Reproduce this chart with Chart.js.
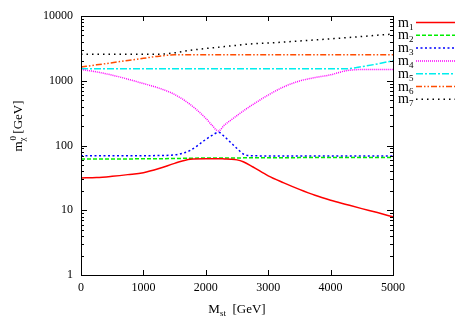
<!DOCTYPE html>
<html>
<head>
<meta charset="utf-8">
<script src="https://cdn.jsdelivr.net/npm/chart.js@4.4.1/dist/chart.umd.min.js"></script>
<style>
  html, body { margin: 0; padding: 0; background: #fff; }
  canvas { display: block; }
</style>
</head>
<body>
<canvas id="chart" width="467" height="327"></canvas>
<script>
// M_st values (GeV) and neutralino masses
const mst = [0, 250, 500, 750, 1000, 1250, 1500, 1750, 2000, 2100, 2200, 2300, 2400, 2500, 2600, 2750, 3000, 3250, 3500, 3750, 4000, 4250, 4500, 4750, 5000];
const m1 = [31.5, 32, 33.5, 35.5, 38, 44, 53, 61.5, 62.5, 62.5, 62.5, 62, 61.5, 60, 56, 47, 34, 26.5, 21, 17, 14.3, 12.3, 10.6, 9.2, 7.9];
const m2 = [62, 62, 62, 62, 62.5, 62.5, 63, 63.5, 64, 64, 64, 64, 64, 64, 64.5, 64.5, 64.5, 64.5, 65, 65, 65, 65, 65, 65, 65];
const m3 = [69.5, 69.5, 69.5, 69.5, 69.5, 70, 71.5, 84, 124, 143, 160, 137, 111, 90, 74, 69.5, 69, 69, 69, 69, 69, 69, 69, 69, 69];
const m4 = [1490, 1370, 1220, 1060, 905, 770, 614, 430, 263, 205, 168, 207, 246, 290, 341, 427, 601, 805, 990, 1120, 1235, 1430, 1490, 1490, 1490];
const m5 = [1530, 1530, 1530, 1530, 1530, 1530, 1530, 1530, 1530, 1530, 1530, 1530, 1530, 1530, 1530, 1530, 1530, 1530, 1530, 1530, 1530, 1535, 1650, 1820, 2040];
const m6 = [1630, 1760, 1900, 2060, 2220, 2400, 2510, 2510, 2510, 2510, 2510, 2510, 2510, 2510, 2510, 2510, 2510, 2510, 2510, 2510, 2510, 2510, 2510, 2510, 2510];
const m7 = [2560, 2560, 2560, 2560, 2560, 2570, 2700, 2950, 3150, 3220, 3290, 3370, 3450, 3530, 3620, 3720, 3830, 3960, 4110, 4270, 4440, 4620, 4820, 5050, 5250];

const xTicks = [0, 1000, 2000, 3000, 4000, 5000];
const yTicks = [1, 10, 100, 1000, 10000];

const series = [
  { sub: '1', data: m1, color: '#ff0000', dash: [] },
  { sub: '2', data: m2, color: '#00ee00', dash: [4, 2] },
  { sub: '3', data: m3, color: '#0000ff', dash: [2, 2.5] },
  { sub: '4', data: m4, color: '#ff00ff', dash: [1, 1] },
  { sub: '5', data: m5, color: '#00eeee', dash: [7, 2, 2, 2] },
  { sub: '6', data: m6, color: '#ff4c00', dash: [6, 2, 1.5, 2, 1.5, 2] },
  { sub: '7', data: m7, color: '#000000', dash: [1.5, 4] }
];

const SERIF = '"Liberation Serif", "DejaVu Serif", serif';

// frame, inward ticks, axis titles and legend, gnuplot style
const decor = {
  id: 'decor',
  afterDraw(chart) {
    const ctx = chart.ctx;
    const a = chart.chartArea;
    const xs = chart.scales.x, ys = chart.scales.y;
    ctx.save();
    ctx.strokeStyle = '#000';
    ctx.lineWidth = 1;
    ctx.setLineDash([]);
    ctx.beginPath();
    xTicks.forEach(v => {
      const px = Math.round(xs.getPixelForValue(v)) + 0.5;
      ctx.moveTo(px, a.bottom); ctx.lineTo(px, a.bottom - 5);
      ctx.moveTo(px, a.top); ctx.lineTo(px, a.top + 5);
    });
    for (let d = 1; d < 10000; d *= 10) {
      for (let k = 1; k <= 10; k++) {
        const py = Math.round(ys.getPixelForValue(d * k)) + 0.5;
        const len = (k === 1 || k === 10) ? 6 : 3;
        ctx.moveTo(a.left, py); ctx.lineTo(a.left + len, py);
        ctx.moveTo(a.right, py); ctx.lineTo(a.right - len, py);
      }
    }
    ctx.stroke();
    ctx.strokeRect(Math.round(a.left) + 0.5, Math.round(a.top) + 0.5,
                   Math.round(a.right - a.left), Math.round(a.bottom - a.top));

    ctx.fillStyle = '#000';
    ctx.textBaseline = 'alphabetic';
    ctx.textAlign = 'left';
    const big = '13px ' + SERIF, small = '9px ' + SERIF;

    // x title: M_st  [GeV]
    ctx.font = big; const wM = ctx.measureText('M').width;
    const wG = ctx.measureText('  [GeV]').width;
    ctx.font = small; const wst = ctx.measureText('st').width;
    let x0 = (a.left + a.right) / 2 - (wM + wst + wG) / 2;
    const by = 313;
    ctx.font = big; ctx.fillText('M', x0, by);
    ctx.font = small; ctx.fillText('st', x0 + wM, by + 3);
    ctx.font = big; ctx.fillText('  [GeV]', x0 + wM + wst, by);

    // y title: m_chi^0 [GeV], rotated
    ctx.save();
    ctx.translate(22, 126);
    ctx.rotate(-Math.PI / 2);
    ctx.font = big; const wm = ctx.measureText('m').width;
    const wg = ctx.measureText(' [GeV]').width;
    ctx.font = small; const wc = Math.max(ctx.measureText('\u03c7').width, ctx.measureText('0').width);
    x0 = -(wm + wc + wg) / 2;
    ctx.font = big; ctx.fillText('m', x0, 0);
    ctx.font = small; ctx.fillText('\u03c7', x0 + wm, 3);
    ctx.fillText('0', x0 + wm + 1, -6);
    ctx.font = big; ctx.fillText(' [GeV]', x0 + wm + wc, 0);
    ctx.restore();

    // legend
    series.forEach((s, i) => {
      const cy = 22.5 + i * 12.8;
      ctx.font = '14px ' + SERIF;
      ctx.fillText('m', 398, cy + 4);
      const w = ctx.measureText('m').width;
      ctx.font = '9px ' + SERIF;
      ctx.fillText(s.sub, 398 + w, cy + 7);
      ctx.strokeStyle = s.color;
      ctx.lineWidth = 1.5;
      ctx.setLineDash(s.dash);
      ctx.beginPath();
      ctx.moveTo(416, cy); ctx.lineTo(455, cy);
      ctx.stroke();
    });
    ctx.restore();
  }
};

new Chart(document.getElementById('chart'), {
  type: 'line',
  data: {
    datasets: series.map(s => ({
      label: 'm' + s.sub,
      data: mst.map((x, i) => ({ x: x, y: s.data[i] })),
      borderColor: s.color,
      borderDash: s.dash,
      borderWidth: 1.5,
      pointRadius: 0,
      fill: false,
      cubicInterpolationMode: 'monotone'
    }))
  },
  options: {
    responsive: false,
    animation: false,
    devicePixelRatio: 1,
    layout: { padding: { left: 0, right: 74, top: 16, bottom: 0 } },
    plugins: { legend: { display: false }, tooltip: { enabled: false } },
    scales: {
      x: {
        type: 'linear',
        min: 0, max: 5000,
        afterBuildTicks: s => { s.ticks = xTicks.map(v => ({ value: v })); },
        ticks: { color: '#000', padding: 6, maxRotation: 0, callback: v => String(v), font: { family: SERIF, size: 12 } },
        grid: { display: false, drawTicks: false },
        border: { display: false },
        afterFit: s => { s.height = 52; }
      },
      y: {
        type: 'logarithmic',
        min: 1, max: 10000,
        afterBuildTicks: s => { s.ticks = yTicks.map(v => ({ value: v })); },
        ticks: { color: '#000', padding: 8, callback: v => String(v), font: { family: SERIF, size: 12 } },
        grid: { display: false, drawTicks: false },
        border: { display: false },
        afterFit: s => { s.width = 81; }
      }
    }
  },
  plugins: [decor]
});
</script>
</body>
</html>
